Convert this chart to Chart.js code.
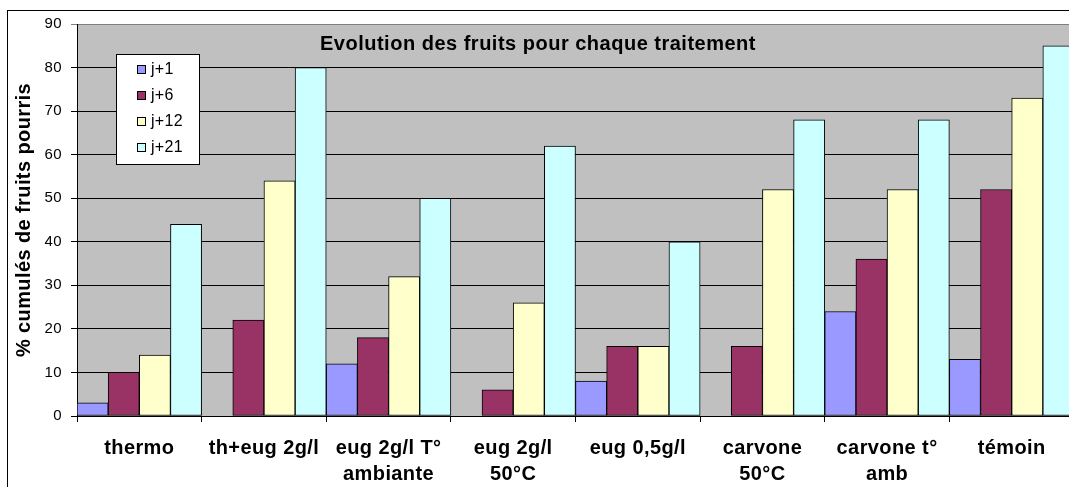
<!DOCTYPE html>
<html>
<head>
<meta charset="utf-8">
<script src="https://cdn.jsdelivr.net/npm/chart.js@4"></script>
<style>
  html, body { margin: 0; padding: 0; background: #fff; overflow: hidden; }
  #wrap { width: 1090px; height: 487px; position: relative; }
</style>
</head>
<body>
<div id="wrap"><canvas id="myChart"></canvas></div>
<script>
const categories = [
  ['thermo'],
  ['th+eug 2g/l'],
  ['eug 2g/l T°', 'ambiante'],
  ['eug 2g/l', '50°C'],
  ['eug 0,5g/l'],
  ['carvone', '50°C'],
  ['carvone t°', 'amb'],
  ['témoin']
];
const seriesNames = ['j+1', 'j+6', 'j+12', 'j+21'];
const j1  = [3, 0, 12, 0, 8, 0, 24, 13];
const j6  = [10, 22, 18, 6, 16, 16, 36, 52];
const j12 = [14, 54, 32, 26, 16, 52, 52, 73];
const j21 = [44, 80, 50, 62, 40, 68, 68, 85];
const colors = ['#9999FF', '#993366', '#FFFFCC', '#CCFFFF'];
const chartTitle = 'Evolution des fruits pour chaque traitement';
const yTitle = '% cumulés de fruits pourris';

const FONT = 'Liberation Sans, Arial, sans-serif';

// grey plot area, outer frame, title and legend box like the Excel original
const excelLook = {
  id: 'excelLook',
  beforeDraw(chart) {
    const { ctx, chartArea: a } = chart;
    ctx.save();
    ctx.fillStyle = '#C0C0C0';
    ctx.fillRect(a.left, a.top, a.right - a.left, a.bottom - a.top);
    ctx.strokeStyle = '#000';
    ctx.lineWidth = 1;
    ctx.strokeRect(7.5, 10.5, 2000, 2000);
    ctx.restore();
    // Excel text is set a bit looser than canvas text
    ctx.letterSpacing = '0.4px';
  },
  afterDraw(chart) {
    const { ctx } = chart;
    ctx.save();
    ctx.fillStyle = '#000';
    ctx.font = 'bold 20px ' + FONT;
    ctx.letterSpacing = '0.5px';
    ctx.textAlign = 'center';
    ctx.textBaseline = 'middle';
    ctx.fillText(chartTitle, 538, 44);

    // legend
    ctx.fillStyle = '#fff';
    ctx.fillRect(116, 54, 84, 111);
    ctx.strokeStyle = '#000';
    ctx.lineWidth = 1;
    ctx.strokeRect(116.5, 54.5, 83, 110);
    ctx.font = '16px ' + FONT;
    ctx.letterSpacing = '0.3px';
    ctx.textAlign = 'left';
    chart.data.datasets.forEach((ds, i) => {
      const y = 69 + i * 26;
      ctx.fillStyle = ds.backgroundColor;
      ctx.fillRect(137, y - 4, 8, 8);
      ctx.strokeRect(137.5, y - 3.5, 8, 8);
      ctx.fillStyle = '#000';
      ctx.fillText(ds.label, 151, y + 1);
    });
    ctx.restore();
    ctx.letterSpacing = '0px';
  }
};

const data = [j1, j6, j12, j21];
const ctx = document.getElementById('myChart');
new Chart(ctx, {
  type: 'bar',
  data: {
    labels: categories,
    datasets: seriesNames.map((name, i) => ({
      label: name,
      data: data[i],
      backgroundColor: colors[i],
      borderColor: '#000',
      borderWidth: 1,
      borderSkipped: false,
      categoryPercentage: 1,
      barPercentage: 1
    }))
  },
  options: {
    responsive: true,
    maintainAspectRatio: false,
    animation: false,
    layout: { padding: { left: 0, top: 24, right: 16, bottom: 0 } },
    plugins: {
      legend: { display: false },
      title: { display: false },
      tooltip: { enabled: false }
    },
    scales: {
      x: {
        afterFit(scale) { scale.height = 71; },
        grid: { drawOnChartArea: false, drawTicks: true, tickLength: 6, offset: true, color: '#000' },
        border: { color: '#000' },
        ticks: {
          autoSkip: false, maxRotation: 0, minRotation: 0,
          padding: 13, color: '#000',
          font: { family: FONT, size: 20, weight: 'bold', lineHeight: 1.3 }
        }
      },
      y: {
        min: 0, max: 90,
        afterFit(scale) { scale.width = 77; },
        grid: {
          color: ctx => ctx.tick && ctx.tick.value === 90 ? '#808080' : '#000',
          tickLength: 6
        },
        border: { color: '#000' },
        ticks: {
          stepSize: 10, padding: 9, color: '#000',
          font: { family: FONT, size: 15 }
        },
        title: {
          display: true, text: yTitle, color: '#000',
          padding: { top: 12, bottom: 0 },
          font: { family: FONT, size: 20, weight: 'bold' }
        }
      }
    }
  },
  plugins: [excelLook]
});
</script>
</body>
</html>
